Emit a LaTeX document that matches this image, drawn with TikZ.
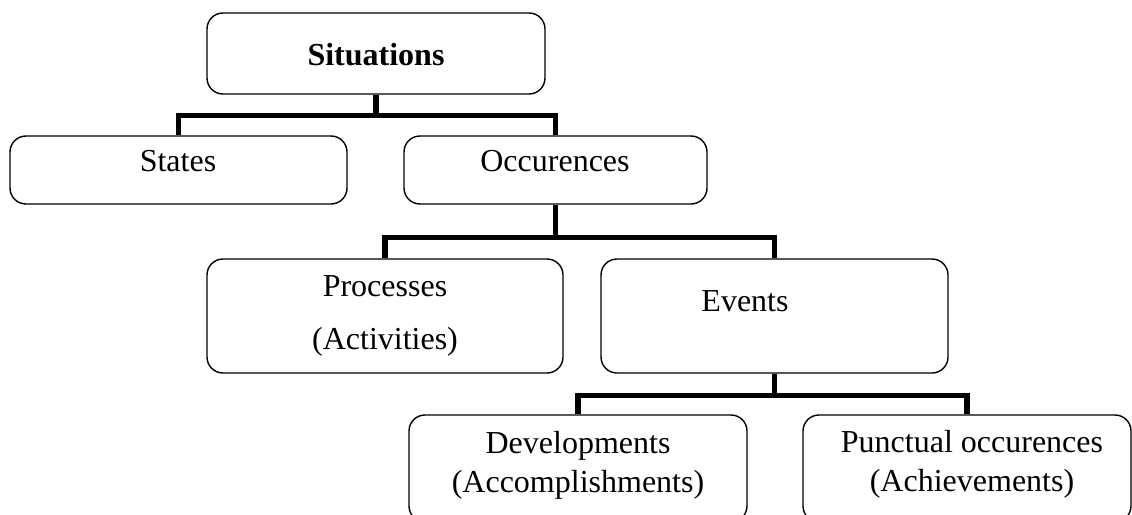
\documentclass[tikz,border=0pt]{standalone}
\usepackage{fontspec}
\setmainfont{Liberation Serif}

\begin{document}
\begin{tikzpicture}[
    x=1pt, y=-1pt,
    box/.style={rectangle, draw, line width=1.4pt, rounded corners=16pt, inner sep=0pt},
    txt/.style={font=\fontsize{32}{38}\selectfont, anchor=base, inner sep=0pt},
    conn/.style={line width=5.5pt, line join=miter}
]
\clip (0,0) rectangle (1132,514);

% Top level
\node[box, minimum width=338pt, minimum height=81pt] (sit) at (376,53.5) {};
\node[txt] (sit-t) at (376,65) {\bfseries Situations};

% Second level
\node[box, minimum width=337pt, minimum height=68pt] (states) at (178.5,170) {};
\node[box, minimum width=303pt, minimum height=68pt] (occ) at (555.5,170) {};
\node[txt] (states-t) at (178,171) {States};
\node[txt] (occ-t) at (555,171) {Occurences};

\draw[conn] (sit.south) -- ++(0,21) coordinate (j1);
\draw[conn] (states.north) |- (j1) -| (occ.north);

% Third level
\node[box, minimum width=356pt, minimum height=114pt] (proc) at (385,316) {};
\node[box, minimum width=347pt, minimum height=114pt] (events) at (774.5,316) {};
\node[txt] (proc-t1) at (385,296) {Processes};
\node[txt] (proc-t2) at (385,349) {(Activities)};
\node[txt] (events-t) at (745,311) {Events};

\draw[conn] (occ.south) -- ++(0,33) coordinate (j2);
\draw[conn] (proc.north) |- (j2) -| (events.north);

% Fourth level
\node[box, minimum width=338pt, minimum height=107pt] (dev) at (578,468.5) {};
\node[box, minimum width=328pt, minimum height=107pt] (punct) at (967,468.5) {};
\node[txt] (dev-t1) at (578,453) {Developments};
\node[txt] (dev-t2) at (578,492) {(Accomplishments)};
\node[txt] (punct-t1) at (972,452) {Punctual occurences};
\node[txt] (punct-t2) at (972,491) {(Achievements)};

\draw[conn] (events.south) -- ++(0,22) coordinate (j3);
\draw[conn] (dev.north) |- (j3) -| (punct.north);

\end{tikzpicture}
\end{document}
